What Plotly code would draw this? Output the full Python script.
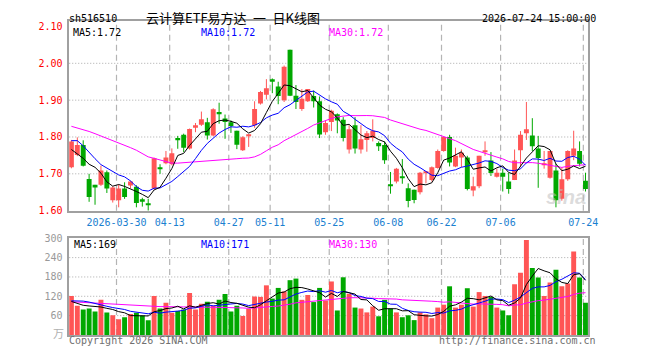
import plotly.graph_objects as go

W, H = 660, 360

# ---------------- data ----------------
tick_labels = ["2026-03-30", "04-13", "04-27", "05-11", "05-25", "06-08", "06-22", "07-06", "07-24"]
tick_index = [8, 17, 27, 34, 44, 54, 63, 73, 87]

opens = [1.718, 1.751, 1.778, 1.686, 1.670, 1.670, 1.704, 1.628, 1.628, 1.660,
         1.668, 1.665, 1.631, 1.617, 1.660, 1.717, 1.729, 1.726, 1.797, 1.806,
         1.769, 1.825, 1.833, 1.840, 1.804, 1.868, 1.850, 1.840, 1.817, 1.764,
         1.803, 1.832, 1.891, 1.915, 1.957, 1.937, 1.900, 2.037, 1.912, 1.876,
         1.897, 1.911, 1.897, 1.813, 1.841, 1.862, 1.847, 1.766, 1.832, 1.766,
         1.792, 1.797, 1.784, 1.778, 1.670, 1.679, 1.691, 1.661, 1.657, 1.650,
         1.702, 1.683, 1.716, 1.762, 1.800, 1.720, 1.744, 1.744, 1.655, 1.666,
         1.761, 1.736, 1.692, 1.703, 1.679, 1.683, 1.764, 1.810, 1.804, 1.769,
         1.724, 1.689, 1.709, 1.632, 1.685, 1.749, 1.762, 1.681]
highs = [1.792, 1.799, 1.791, 1.700, 1.670, 1.722, 1.709, 1.666, 1.671, 1.677,
         1.681, 1.669, 1.635, 1.632, 1.744, 1.726, 1.762, 1.769, 1.803, 1.809,
         1.823, 1.838, 1.869, 1.852, 1.878, 1.893, 1.861, 1.845, 1.817, 1.802,
         1.808, 1.897, 1.925, 1.957, 1.959, 1.950, 1.994, 2.037, 1.941, 1.930,
         1.930, 1.926, 1.910, 1.845, 1.874, 1.864, 1.854, 1.832, 1.854, 1.832,
         1.816, 1.848, 1.788, 1.788, 1.705, 1.716, 1.740, 1.674, 1.657, 1.705,
         1.705, 1.720, 1.766, 1.800, 1.806, 1.771, 1.766, 1.749, 1.692, 1.749,
         1.788, 1.759, 1.714, 1.714, 1.703, 1.766, 1.816, 1.895, 1.851, 1.803,
         1.762, 1.762, 1.727, 1.718, 1.764, 1.817, 1.788, 1.703]
lows = [1.715, 1.748, 1.720, 1.624, 1.616, 1.667, 1.648, 1.622, 1.609, 1.632,
        1.661, 1.609, 1.611, 1.600, 1.657, 1.700, 1.726, 1.723, 1.768, 1.759,
        1.766, 1.813, 1.830, 1.793, 1.802, 1.836, 1.795, 1.811, 1.767, 1.762,
        1.773, 1.825, 1.888, 1.902, 1.919, 1.889, 1.895, 1.911, 1.876, 1.871,
        1.895, 1.880, 1.797, 1.806, 1.816, 1.810, 1.788, 1.755, 1.755, 1.755,
        1.760, 1.788, 1.762, 1.727, 1.646, 1.674, 1.673, 1.609, 1.620, 1.644,
        1.674, 1.679, 1.714, 1.760, 1.720, 1.718, 1.718, 1.655, 1.639, 1.661,
        1.749, 1.694, 1.690, 1.652, 1.646, 1.683, 1.718, 1.792, 1.762, 1.662,
        1.714, 1.687, 1.609, 1.627, 1.681, 1.737, 1.720, 1.652]
closes = [1.788, 1.778, 1.722, 1.637, 1.663, 1.709, 1.660, 1.663, 1.660, 1.637,
          1.679, 1.621, 1.624, 1.615, 1.742, 1.715, 1.744, 1.756, 1.792, 1.771,
          1.822, 1.832, 1.848, 1.804, 1.875, 1.862, 1.841, 1.830, 1.779, 1.799,
          1.804, 1.876, 1.922, 1.932, 1.950, 1.911, 1.991, 1.912, 1.895, 1.904,
          1.930, 1.897, 1.807, 1.838, 1.871, 1.845, 1.797, 1.821, 1.769, 1.794,
          1.810, 1.817, 1.775, 1.737, 1.668, 1.714, 1.689, 1.626, 1.629, 1.703,
          1.703, 1.718, 1.762, 1.800, 1.731, 1.749, 1.757, 1.659, 1.666, 1.749,
          1.762, 1.702, 1.703, 1.692, 1.659, 1.736, 1.806, 1.821, 1.775, 1.743,
          1.725, 1.762, 1.628, 1.685, 1.762, 1.769, 1.727, 1.659]
volumes = [121, 91, 79, 82, 73, 109, 70, 61, 49, 55,
           65, 69, 60, 46, 121, 82, 100, 69, 74, 79,
           130, 79, 97, 103, 91, 109, 127, 73, 91, 59,
           81, 119, 118, 154, 113, 146, 135, 170, 175, 109,
           124, 102, 146, 107, 166, 76, 179, 128, 85, 82,
           70, 88, 58, 109, 82, 70, 55, 61, 46, 70,
           64, 52, 85, 94, 151, 85, 94, 145, 88, 133,
           121, 118, 85, 76, 61, 157, 193, 295, 208, 178,
           121, 163, 202, 151, 160, 259, 178, 100]

# moving-average values before a full window exists
ma5_head = [1.766, 1.755, 1.742, 1.726]
ma10_head = [1.790, 1.790, 1.776, 1.757, 1.741, 1.725, 1.716, 1.706, 1.697]
ma30_head = [1.829, 1.825, 1.820, 1.815, 1.809, 1.803, 1.797, 1.789, 1.784, 1.778,
             1.771, 1.764, 1.754, 1.746, 1.742, 1.737, 1.732, 1.729, 1.729, 1.730,
             1.731, 1.733, 1.734, 1.734, 1.735, 1.736, 1.737, 1.739, 1.741]
vma5_head = [104, 98, 92, 90]
vma10_head = [106, 106, 105, 102, 97, 93, 89, 85, 82]
vma30_head = [103, 102, 101, 99, 98, 97, 95, 94, 93, 92, 91, 90, 89, 89, 88,
              88, 88, 87, 87, 87, 87, 86, 86, 86, 86, 86, 86, 85, 85]

price_ticks = [1.60, 1.70, 1.80, 1.90, 2.00, 2.10]
vol_ticks = [60, 120, 180, 240, 300]

price_ma_text = ["MA5:1.72", "MA10:1.72", "MA30:1.72"]
vol_ma_text = ["MA5:169", "MA10:171", "MA30:130"]


def moving_average(vals, n, head):
    out = list(head)
    for i in range(len(head), len(vals)):
        out.append(sum(vals[i - n + 1:i + 1]) / n)
    return out


n = len(closes)
idx = list(range(n))
ma5 = moving_average(closes, 5, ma5_head)
ma10 = moving_average(closes, 10, ma10_head)
ma30 = moving_average(closes, 30, ma30_head)
vma5 = moving_average(volumes, 5, vma5_head)
vma10 = moving_average(volumes, 10, vma10_head)
vma30 = moving_average(volumes, 30, vma30_head)

# ---------------- styling / layout ----------------
RED = "#ff5555"
GREEN = "#00a800"
MONO = "DejaVu Sans Mono"
CJK = "Noto Sans CJK SC"

PX_L, PX_R = 70.3, 597.0
P_TOP, P_BOT = 15.7, 211.7
V_TOP, V_BOT = 240.3, 340.3
SLOT, FIRST_C = 6.0, 72.5
X0 = (PX_L - FIRST_C) / SLOT
X1 = (PX_R - FIRST_C) / SLOT
GRID_OFF = -0.367
PX_PER_UNIT = 381.0
P_MAX = price_ticks[0] + (P_BOT - P_TOP) / PX_PER_UNIT

up = [c >= o for o, c in zip(opens, closes)]
colors = [RED if u else GREEN for u in up]
min_body = 1.0 / PX_PER_UNIT
body_base = [min(o, c) for o, c in zip(opens, closes)]
body_h = [max(abs(c - o), min_body) for o, c in zip(opens, closes)]

fig = go.Figure()

# wicks
for col, flag in ((RED, True), (GREEN, False)):
    wx, wy = [], []
    for i in idx:
        if up[i] == flag:
            wx += [i, i, None]
            wy += [lows[i], highs[i], None]
    fig.add_trace(go.Scatter(x=wx, y=wy, mode="lines", line=dict(color=col, width=1),
                             xaxis="x", yaxis="y", hoverinfo="skip", showlegend=False))

# bodies
fig.add_trace(go.Bar(x=idx, y=body_h, base=body_base, width=5 / 6,
                     marker=dict(color=colors, line=dict(width=0)),
                     xaxis="x", yaxis="y", showlegend=False))

for vals, col in ((ma30, "#ff00ff"), (ma10, "#0000ff"), (ma5, "#000000")):
    fig.add_trace(go.Scatter(x=idx, y=vals, mode="lines", line=dict(color=col, width=1),
                             xaxis="x", yaxis="y", showlegend=False))

# volume
fig.add_trace(go.Bar(x=idx, y=volumes, width=5 / 6,
                     marker=dict(color=colors, line=dict(width=0)),
                     xaxis="x2", yaxis="y2", showlegend=False))
for vals, col in ((vma30, "#ff00ff"), (vma10, "#0000ff"), (vma5, "#000000")):
    fig.add_trace(go.Scatter(x=idx, y=vals, mode="lines", line=dict(color=col, width=1),
                             xaxis="x2", yaxis="y2", showlegend=False))


def ydom(top, bot):
    return [1 - bot / H, 1 - top / H]


xdom = [PX_L / W, PX_R / W]
tickpos = [t + GRID_OFF for t in tick_index]
BORDER = "#a0a0a0"

fig.update_layout(
    width=W, height=H, margin=dict(l=0, r=0, t=0, b=0),
    paper_bgcolor="white", plot_bgcolor="white", barmode="overlay",
    showlegend=False,
    xaxis=dict(domain=xdom, range=[X0, X1], showgrid=False, zeroline=False,
               showline=True, mirror=True, linecolor=BORDER, linewidth=1.5,
               tickmode="array", tickvals=tickpos, ticktext=tick_labels, ticks="",
               ticklabelstandoff=2,
               tickfont=dict(family=MONO, size=10, color="#1a80d0"), anchor="y"),
    yaxis=dict(domain=ydom(P_TOP, P_BOT), range=[price_ticks[0], P_MAX], showgrid=False,
               zeroline=False, showline=True, mirror=True, linecolor=BORDER, linewidth=1.5,
               tickmode="array", tickvals=price_ticks,
               ticktext=["%.2f" % v for v in price_ticks], ticks="",
               ticklabelstandoff=3,
               tickfont=dict(family=MONO, size=10, color="#ff0000"), anchor="x"),
    xaxis2=dict(domain=xdom, range=[X0, X1], showgrid=False, zeroline=False,
                showline=True, mirror=True, linecolor=BORDER, linewidth=1.5,
                showticklabels=False, ticks="", anchor="y2"),
    yaxis2=dict(domain=ydom(V_TOP, V_BOT), range=[0, vol_ticks[-1]], showgrid=False,
                zeroline=False, showline=True, mirror=True, linecolor=BORDER, linewidth=1.5,
                tickmode="array", tickvals=vol_ticks, ticktext=[str(v) for v in vol_ticks],
                ticks="", ticklabelstandoff=3,
                tickfont=dict(family=MONO, size=10, color="#999999"), anchor="x2"),
)

shapes = []
for yv in price_ticks[1:-1]:
    shapes.append(dict(type="line", xref="x domain", yref="y", x0=0, x1=1, y0=yv, y1=yv,
                       line=dict(color="#aaaaaa", width=1, dash="1px,2px"), layer="below"))
for yv in vol_ticks[:-1]:
    shapes.append(dict(type="line", xref="x2 domain", yref="y2", x0=0, x1=1, y0=yv, y1=yv,
                       line=dict(color="#aaaaaa", width=1, dash="1px,2px"), layer="below"))
for xv in tickpos:
    for xr, yr in (("x", "y domain"), ("x2", "y2 domain")):
        shapes.append(dict(type="line", xref=xr, yref=yr, x0=xv, x1=xv, y0=0, y1=1,
                           line=dict(color="#b4b4b4", width=1.2, dash="6px,4px"), layer="below"))
fig.update_layout(shapes=shapes)


def ann(text, px, py, color="#000000", size=10, xanchor="left", family=MONO, **kw):
    return dict(text=text, x=px / W, y=1 - py / H, xref="paper", yref="paper",
                xanchor=xanchor, yanchor="middle", showarrow=False,
                font=dict(family=family, size=size, color=color), borderpad=0, **kw)


annotations = [
    ann("sh516510", 69, 13),
    ann("云计算ETF易方达\u2002一\u2002日K线图", 236.5, 11.5, size=13, xanchor="center",
        family=CJK),
    ann("2026-07-24 15:00:00", 488, 13),
    ann(price_ma_text[0], 73, 27.2, "#000000"),
    ann(price_ma_text[1], 203.5, 27.2, "#0000ff"),
    ann(price_ma_text[2], 333.5, 27.2, "#ff00ff"),
    ann(vol_ma_text[0], 74, 246.5, "#000000"),
    ann(vol_ma_text[1], 203.5, 246.5, "#0000ff"),
    ann(vol_ma_text[2], 333.5, 246.5, "#ff00ff"),
    ann("万", 66, 338.5, "#b0b0b0", size=11, xanchor="right", family=CJK),
    ann("Copyright 2026 SINA.COM", 69, 346.5, "#707070"),
    ann("http://finance.sina.com.cn", 445, 346.5, "#707070"),
    ann("<i><b>sina</b></i>", 553, 198, "rgba(190,190,190,0.55)", size=20,
        family="Liberation Sans"),
]
fig.update_layout(annotations=annotations)

fig.write_html("out.html")
